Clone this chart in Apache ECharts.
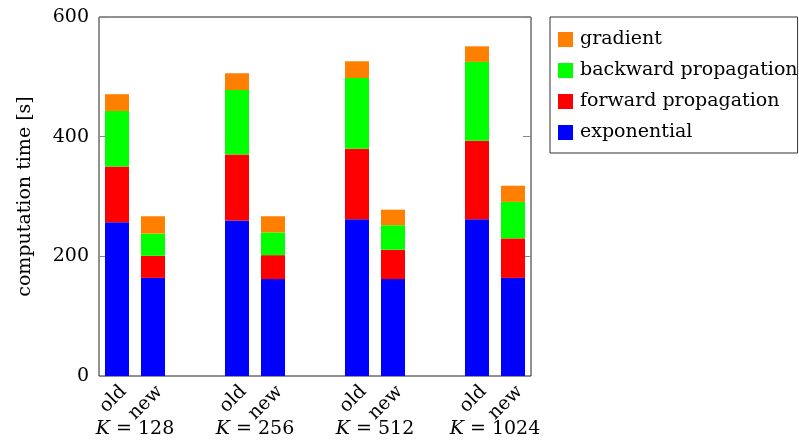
<!DOCTYPE html>
<html>
<head>
<meta charset="utf-8">
<script src="https://cdn.jsdelivr.net/npm/echarts@6/dist/echarts.min.js"></script>
<style>html,body{margin:0;padding:0;background:#fff}#c{width:799px;height:440px}</style>
</head>
<body>
<div id="c"></div>
<script>
// ---- data ----
const groups = ['128', '256', '512', '1024'];
const variants = ['old', 'new'];
// bar order: old128, new128, old256, new256, old512, new512, old1024, new1024
const exponential = [257, 164, 260, 162, 262, 162, 262, 164];
const forwardProp = [93, 37, 110, 40, 118, 49, 131, 66];
const backwardProp = [93, 37, 108, 38, 118, 41, 132, 61];
const gradient = [28, 29, 28, 27, 28, 26, 26, 27];
const yTicks = [0, 200, 400, 600];

const FONT = 'DejaVu Serif';
const FS = 19;
const offset = 0.15; // position of old/new relative to group centre

// x positions of bars from group index
const xPos = [];
groups.forEach((g, gi) => variants.forEach((v, vi) => xPos.push(gi + (vi === 0 ? -offset : offset))));

function lab(v) {
  const r = Math.round(v * 1000);
  for (let gi = 0; gi < groups.length; gi++) {
    if (r === Math.round((gi - offset) * 1000)) return variants[0];
    if (r === Math.round((gi + offset) * 1000)) return variants[1];
  }
  return '';
}

function mk(name, vals, color) {
  return {
    name: name, type: 'bar', stack: 'total', barWidth: 24,
    itemStyle: { color: color },
    encode: { x: 1, y: 0 },
    data: vals.map((v, i) => [v, xPos[i]])
  };
}

const chart = echarts.init(document.getElementById('c'));
chart.setOption({
  animation: false,
  textStyle: { fontFamily: FONT, color: '#000' },
  grid: { left: 99, right: 268, top: 17, bottom: 64, show: true, borderColor: '#222', borderWidth: 1 },
  legend: {
    orient: 'vertical', left: 550, top: 17,
    data: ['gradient', 'backward propagation', 'forward propagation', 'exponential'],
    itemWidth: 15, itemHeight: 15, itemGap: 12,
    padding: [13, 0, 11, 8],
    borderColor: '#333', borderWidth: 1,
    textStyle: { fontFamily: FONT, fontSize: FS, color: '#000', padding: [0, 0, 0, 2] },
    icon: 'rect'
  },
  xAxis: [{
    type: 'value', min: -0.3, max: 3.3, interval: 0.05,
    splitLine: { show: false },
    axisLine: { show: false, onZero: false }, axisTick: { show: false },
    axisLabel: { rotate: 45, margin: 6, align: 'right', verticalAlign: 'top',
      fontFamily: FONT, fontSize: FS, color: '#000', formatter: lab, showMinLabel: false, showMaxLabel: false }
  }, {
    type: 'value', min: -0.3, max: 3.3, interval: 0.1, position: 'bottom',
    splitLine: { show: false },
    axisLine: { show: false, onZero: false }, axisTick: { show: false },
    axisLabel: {
      margin: 44, fontFamily: FONT, fontSize: FS, color: '#000',
      formatter: function (v) {
        const r = Math.round(v * 1000);
        for (let gi = 0; gi < groups.length; gi++) if (r === gi * 1000) return '{i|K} = ' + groups[gi];
        return '';
      },
      rich: { i: { fontStyle: 'italic', fontFamily: FONT, fontSize: FS, color: '#000' } }
    }
  }],
  yAxis: [{
    type: 'value', min: 0, max: 600, interval: 200,
    name: 'computation time [s]', nameLocation: 'middle', nameGap: 64,
    nameTextStyle: { fontFamily: FONT, fontSize: FS, color: '#000' },
    splitLine: { show: false },
    axisLine: { show: false, onZero: false },
    axisTick: { show: true, inside: true, length: 8, lineStyle: { color: '#888' } },
    axisLabel: { margin: 10, fontFamily: FONT, fontSize: FS, color: '#000',
      formatter: v => yTicks.indexOf(v) >= 0 ? String(v) : '' }
  }, {
    type: 'value', min: 0, max: 600, interval: 200, position: 'right',
    splitLine: { show: false }, axisLine: { show: false, onZero: false },
    axisTick: { show: true, inside: true, length: 8, lineStyle: { color: '#888' } },
    axisLabel: { show: false }
  }],
  series: [
    mk('exponential', exponential, '#0000FF'),
    mk('forward propagation', forwardProp, '#FF0000'),
    mk('backward propagation', backwardProp, '#00FF00'),
    mk('gradient', gradient, '#FF8000')
  ]
});
</script>
</body>
</html>
